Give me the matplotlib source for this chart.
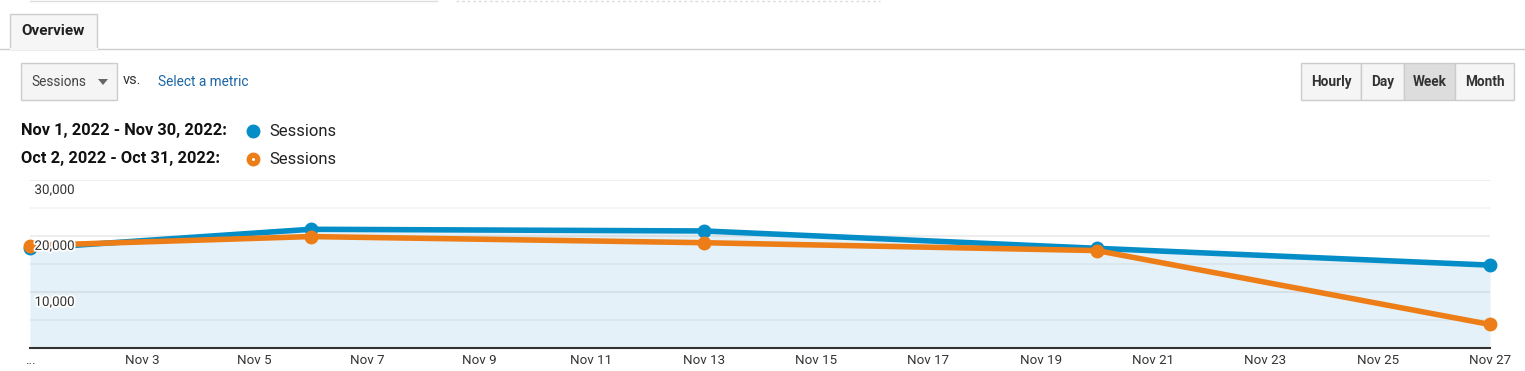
import numpy as np
import matplotlib
matplotlib.use("Agg")
import matplotlib.pyplot as plt
import matplotlib.patheffects as pe
from matplotlib.patches import Rectangle, Polygon

plt.rcParams['font.family'] = ['Roboto', 'DejaVu Sans']

# weekly sessions (day of November)
days = [1, 6, 13, 20, 27]
sessions_nov = [17800, 21200, 20900, 17800, 14800]
sessions_oct = [18300, 19900, 18800, 17400, 4200]
tick_days = list(range(3, 28, 2))
tick_labels = ['Nov %d' % d for d in tick_days]
y_ticks = [10000, 20000, 30000]
buttons = ['Hourly', 'Day', 'Week', 'Month']

W, H = 1525, 371
blue = '#058dc7'
orange = '#ed7e17'

fig = plt.figure(figsize=(W / 100, H / 100), dpi=100)

# UI layer in pixel coordinates
ui = fig.add_axes([0, 0, 1, 1])
ui.set_xlim(0, W)
ui.set_ylim(H, 0)
ui.axis('off')

# faint top strip
ui.plot([30, 437], [0.5, 0.5], color='#dddddd', lw=1)
ui.plot([456, 880], [0.5, 0.5], color='#dddddd', lw=1, ls=(0, (2, 2)))

# tab
ui.add_patch(Rectangle((10, 14), 87, 35, fc='#f6f6f6', ec='#cccccc', lw=1))
ui.plot([0, W], [49, 49], color='#cccccc', lw=1)
ui.plot([10.5, 96.5], [49, 49], color='#f6f6f6', lw=1.5)
ui.text(53, 31, 'Overview', ha='center', va='center', fontsize=11,
        fontweight='bold', color='#222222')

# metric dropdown
ui.add_patch(Rectangle((21, 63), 96, 37, fc='#f5f5f5', ec='#cccccc', lw=1))
ui.text(31, 82, 'Sessions', ha='left', va='center', fontsize=9.8, color='#444444')
ui.add_patch(Polygon([[98, 79], [108, 79], [103, 85]], closed=True,
                     fc='#666666', ec='none'))
ui.text(123, 80, 'vs.', ha='left', va='center', fontsize=10.5, color='#333333')
ui.text(158, 82, 'Select a metric', ha='left', va='center', fontsize=9.8,
        color='#1a65a6')

# granularity buttons
edges = [1301, 1361, 1404, 1455, 1514]
for i, name in enumerate(buttons):
    fc = '#dddddd' if name == 'Week' else '#f5f5f5'
    ui.add_patch(Rectangle((edges[i], 63), edges[i + 1] - edges[i], 37,
                           fc=fc, ec='#cccccc', lw=1))
    ui.text((edges[i] + edges[i + 1]) / 2, 82, name, ha='center', va='center',
            fontsize=9.8, fontweight='bold', color='#333333')

# legend
rows = [('Nov 1, 2022 - Nov 30, 2022:', blue, 131),
        ('Oct 2, 2022 - Oct 31, 2022:', orange, 159)]
for label, c, yy in rows:
    ui.text(21, yy, label, ha='left', va='center', fontsize=11.8,
            fontweight='bold', color='#111111')
    ui.plot([253], [yy], 'o', ms=9, color=c)
    ui.text(269, yy, 'Sessions', ha='left', va='center', fontsize=12,
            color='#222222')
ui.plot([253], [159], 'o', ms=1.2, color='white')

# chart
x0, x1, ytop, ybot = 30, 1490, 180, 348
ax = fig.add_axes([x0 / W, (H - ybot) / H, (x1 - x0) / W, (ybot - ytop) / H])
ax.set_xlim(days[0], days[-1])
ax.set_ylim(0, 30000)
for s in ['top', 'right', 'left']:
    ax.spines[s].set_visible(False)
ax.spines['bottom'].set_color('#333333')
ax.spines['bottom'].set_linewidth(1.5)
ax.spines['bottom'].set_zorder(7)
ax.set_yticks([])
ax.set_xticks([days[0]] + tick_days)
ax.set_xticklabels(['...'] + tick_labels, fontsize=9.6, color='#333333')
ax.tick_params(axis='x', length=0, pad=4)

ax.fill_between(days, sessions_nov, 0, color='#e5f1f8', zorder=0, lw=0)
for v in range(5000, 30001, 5000):
    ax.axhline(v, color='black', alpha=0.065 if v % 10000 == 0 else 0.045,
               lw=1.5, zorder=1)
for v in y_ticks:
    ax.text(days[0] + 0.08, v - 700, '{:,}'.format(v), ha='left', va='top',
            fontsize=9.6, color='#333333', zorder=6,
            path_effects=[pe.withStroke(linewidth=2.5, foreground='white')])

ax.plot(days, sessions_nov, '-o', color=blue, lw=4, ms=9, clip_on=False, zorder=4)
ax.plot(days, sessions_oct, '-o', color=orange, lw=4, ms=9, clip_on=False, zorder=5)

fig.savefig('out.png', dpi=100)
